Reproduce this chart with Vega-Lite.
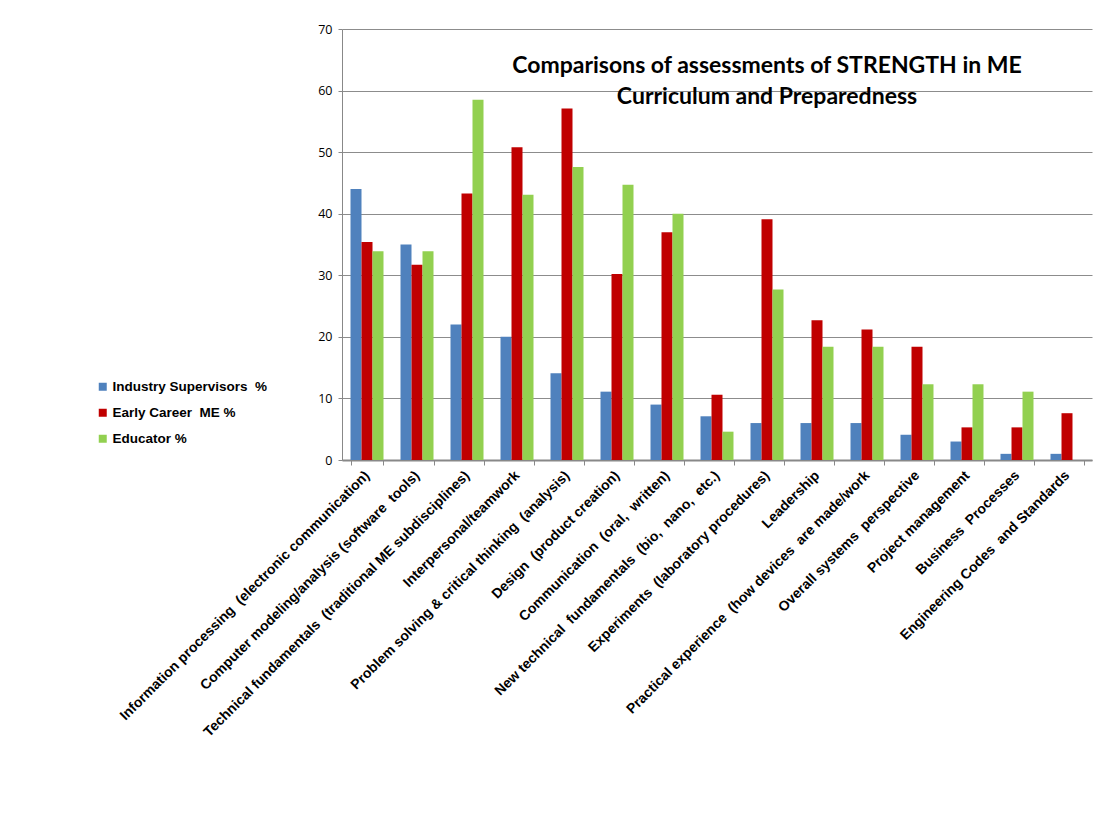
{
  "$schema": "https://vega.github.io/schema/vega-lite/v6.json",
  "autosize": "none",
  "padding": {"left": 342, "top": 29, "right": 28, "bottom": 361},
  "width": 750,
  "height": 431,
  "background": "white",
  "title": {
    "text": ["Comparisons of assessments of STRENGTH in ME", "Curriculum and Preparedness"],
    "font": "Lato",
    "fontSize": 23,
    "fontWeight": "bold",
    "color": "#000000",
    "anchor": "middle",
    "frame": "group",
    "orient": "top",
    "offset": 0,
    "dx": 50,
    "dy": 86,
    "lineHeight": 31
  },
  "data": {
    "values": [
      {"skill": "Information processing \u00a0(electronic communication)", "group": "Industry Supervisors \u00a0%", "value": 44.0},
      {"skill": "Information processing \u00a0(electronic communication)", "group": "Early Career \u00a0ME %", "value": 35.4},
      {"skill": "Information processing \u00a0(electronic communication)", "group": "Educator %", "value": 33.9},
      {"skill": "Computer modeling/analysis (software \u00a0tools)", "group": "Industry Supervisors \u00a0%", "value": 35.0},
      {"skill": "Computer modeling/analysis (software \u00a0tools)", "group": "Early Career \u00a0ME %", "value": 31.7},
      {"skill": "Computer modeling/analysis (software \u00a0tools)", "group": "Educator %", "value": 33.9},
      {"skill": "Technical fundamentals \u00a0(traditional ME subdisciplines)", "group": "Industry Supervisors \u00a0%", "value": 22.0},
      {"skill": "Technical fundamentals \u00a0(traditional ME subdisciplines)", "group": "Early Career \u00a0ME %", "value": 43.3},
      {"skill": "Technical fundamentals \u00a0(traditional ME subdisciplines)", "group": "Educator %", "value": 58.5},
      {"skill": "Interpersonal/teamwork", "group": "Industry Supervisors \u00a0%", "value": 20.0},
      {"skill": "Interpersonal/teamwork", "group": "Early Career \u00a0ME %", "value": 50.8},
      {"skill": "Interpersonal/teamwork", "group": "Educator %", "value": 43.1},
      {"skill": "Problem solving & critical thinking \u00a0(analysis)", "group": "Industry Supervisors \u00a0%", "value": 14.1},
      {"skill": "Problem solving & critical thinking \u00a0(analysis)", "group": "Early Career \u00a0ME %", "value": 57.1},
      {"skill": "Problem solving & critical thinking \u00a0(analysis)", "group": "Educator %", "value": 47.6},
      {"skill": "Design \u00a0(product creation)", "group": "Industry Supervisors \u00a0%", "value": 11.1},
      {"skill": "Design \u00a0(product creation)", "group": "Early Career \u00a0ME %", "value": 30.2},
      {"skill": "Design \u00a0(product creation)", "group": "Educator %", "value": 44.7},
      {"skill": "Communication \u00a0(oral, \u00a0written)", "group": "Industry Supervisors \u00a0%", "value": 9.0},
      {"skill": "Communication \u00a0(oral, \u00a0written)", "group": "Early Career \u00a0ME %", "value": 37.0},
      {"skill": "Communication \u00a0(oral, \u00a0written)", "group": "Educator %", "value": 40.0},
      {"skill": "New technical \u00a0fundamentals \u00a0(bio, \u00a0nano, \u00a0etc.)", "group": "Industry Supervisors \u00a0%", "value": 7.1},
      {"skill": "New technical \u00a0fundamentals \u00a0(bio, \u00a0nano, \u00a0etc.)", "group": "Early Career \u00a0ME %", "value": 10.6},
      {"skill": "New technical \u00a0fundamentals \u00a0(bio, \u00a0nano, \u00a0etc.)", "group": "Educator %", "value": 4.6},
      {"skill": "Experiments \u00a0(laboratory procedures)", "group": "Industry Supervisors \u00a0%", "value": 6.0},
      {"skill": "Experiments \u00a0(laboratory procedures)", "group": "Early Career \u00a0ME %", "value": 39.1},
      {"skill": "Experiments \u00a0(laboratory procedures)", "group": "Educator %", "value": 27.7},
      {"skill": "Leadership", "group": "Industry Supervisors \u00a0%", "value": 6.0},
      {"skill": "Leadership", "group": "Early Career \u00a0ME %", "value": 22.7},
      {"skill": "Leadership", "group": "Educator %", "value": 18.4},
      {"skill": "Practical experience \u00a0(how devices \u00a0are made/work", "group": "Industry Supervisors \u00a0%", "value": 6.0},
      {"skill": "Practical experience \u00a0(how devices \u00a0are made/work", "group": "Early Career \u00a0ME %", "value": 21.2},
      {"skill": "Practical experience \u00a0(how devices \u00a0are made/work", "group": "Educator %", "value": 18.4},
      {"skill": "Overall systems \u00a0perspective", "group": "Industry Supervisors \u00a0%", "value": 4.1},
      {"skill": "Overall systems \u00a0perspective", "group": "Early Career \u00a0ME %", "value": 18.4},
      {"skill": "Overall systems \u00a0perspective", "group": "Educator %", "value": 12.3},
      {"skill": "Project management", "group": "Industry Supervisors \u00a0%", "value": 3.0},
      {"skill": "Project management", "group": "Early Career \u00a0ME %", "value": 5.3},
      {"skill": "Project management", "group": "Educator %", "value": 12.3},
      {"skill": "Business \u00a0Processes", "group": "Industry Supervisors \u00a0%", "value": 1.0},
      {"skill": "Business \u00a0Processes", "group": "Early Career \u00a0ME %", "value": 5.3},
      {"skill": "Business \u00a0Processes", "group": "Educator %", "value": 11.1},
      {"skill": "Engineering Codes \u00a0and Standards", "group": "Industry Supervisors \u00a0%", "value": 1.0},
      {"skill": "Engineering Codes \u00a0and Standards", "group": "Early Career \u00a0ME %", "value": 7.6},
      {"skill": "Engineering Codes \u00a0and Standards", "group": "Educator %", "value": 0}
    ]
  },
  "mark": {"type": "bar"},
  "encoding": {
    "x": {
      "field": "skill",
      "type": "nominal",
      "sort": null,
      "scale": {"paddingInner": 0.34, "paddingOuter": 0.17},
      "axis": {
        "title": null,
        "labelAngle": -45,
        "labelAlign": "right",
        "labelBaseline": "middle",
        "labelFont": "Liberation Sans",
        "labelFontSize": 14,
        "labelFontWeight": "bold",
        "labelColor": "#000000",
        "labelPadding": 8,
        "labelLimit": 0,
        "tickBand": "extent",
        "tickSize": 5,
        "tickColor": "#888888",
        "domainColor": "#888888",
        "domainWidth": 2,
        "grid": false
      }
    },
    "xOffset": {"field": "group", "type": "nominal", "sort": ["Industry Supervisors \u00a0%", "Early Career \u00a0ME %", "Educator %"], "scale": {"paddingInner": 0, "paddingOuter": 0}},
    "y": {
      "field": "value",
      "type": "quantitative",
      "scale": {"domain": [0, 70], "nice": false},
      "axis": {
        "title": null,
        "values": [0, 10, 20, 30, 40, 50, 60, 70],
        "labelFont": "Open Sans",
        "labelFontSize": 12.5,
        "labelColor": "#000000",
        "labelPadding": 6,
        "tickSize": 4,
        "tickColor": "#888888",
        "domainColor": "#888888",
        "grid": true,
        "gridColor": "#8c8c8c",
        "gridWidth": 1
      }
    },
    "color": {
      "field": "group",
      "type": "nominal",
      "sort": ["Industry Supervisors \u00a0%", "Early Career \u00a0ME %", "Educator %"],
      "scale": {"domain": ["Industry Supervisors \u00a0%", "Early Career \u00a0ME %", "Educator %"], "range": ["#4F81BD", "#C00000", "#92D050"]},
      "legend": {
        "title": null,
        "orient": "none",
        "legendX": -246,
        "legendY": 351,
        "symbolType": "square",
        "symbolSize": 64,
        "symbolStrokeWidth": 0,
        "labelFont": "Liberation Sans",
        "labelFontSize": 13.5,
        "labelFontWeight": "bold",
        "labelColor": "#000000",
        "labelOffset": 3,
        "rowPadding": 11
      }
    }
  },
  "config": {"view": {"stroke": null}}
}
